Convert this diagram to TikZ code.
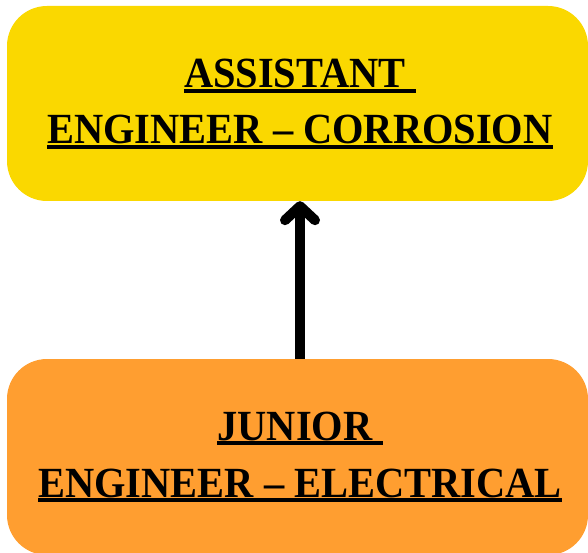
\documentclass[tikz,border=0pt]{standalone}
\usepackage{fontspec}
\newfontfamily\lblfont{Liberation Serif}[FakeStretch=0.94]
\usetikzlibrary{arrows.meta}
\definecolor{boxyellow}{HTML}{FAD800}
\definecolor{boxorange}{HTML}{FF9E30}
\tikzset{
  card/.style={rounded corners=40pt, inner sep=0pt, draw=none},
  lbl/.style={inner sep=0pt, anchor=base, font=\lblfont\bfseries\fontsize{43}{50}\selectfont},
  uline/.style={line width=4pt},
  uparrow/.style={line width=10pt, -{Straight Barb[length=14pt, width=30pt, line cap=round, line join=round]}}
}
\begin{document}
\begin{tikzpicture}[x=1pt, y=-1pt]
\useasboundingbox (0,0) rectangle (588,553);
\node[card, fill=boxyellow, minimum width=581pt, minimum height=195pt] (top) at (297.5,103.5) {};
\node[card, fill=boxorange, minimum width=581pt, minimum height=196pt] (bot) at (297.5,457) {};
\draw[uparrow] (bot.north -| 300,0) -- (top.south -| 300,0);
\node[lbl] (t1) at (300,88) {ASSISTANT\ \null};
\node[lbl] (t2) at (300,144) {ENGINEER – CORROSION};
\node[lbl] (b1) at (300,440) {JUNIOR\ \null};
\node[lbl] (b2) at (300,497) {ENGINEER – ELECTRICAL};
\foreach \n in {t1,t2,b1,b2}
  \draw[uline] ([yshift=-3pt]\n.base west) -- ([yshift=-3pt]\n.base east);
\end{tikzpicture}
\end{document}
